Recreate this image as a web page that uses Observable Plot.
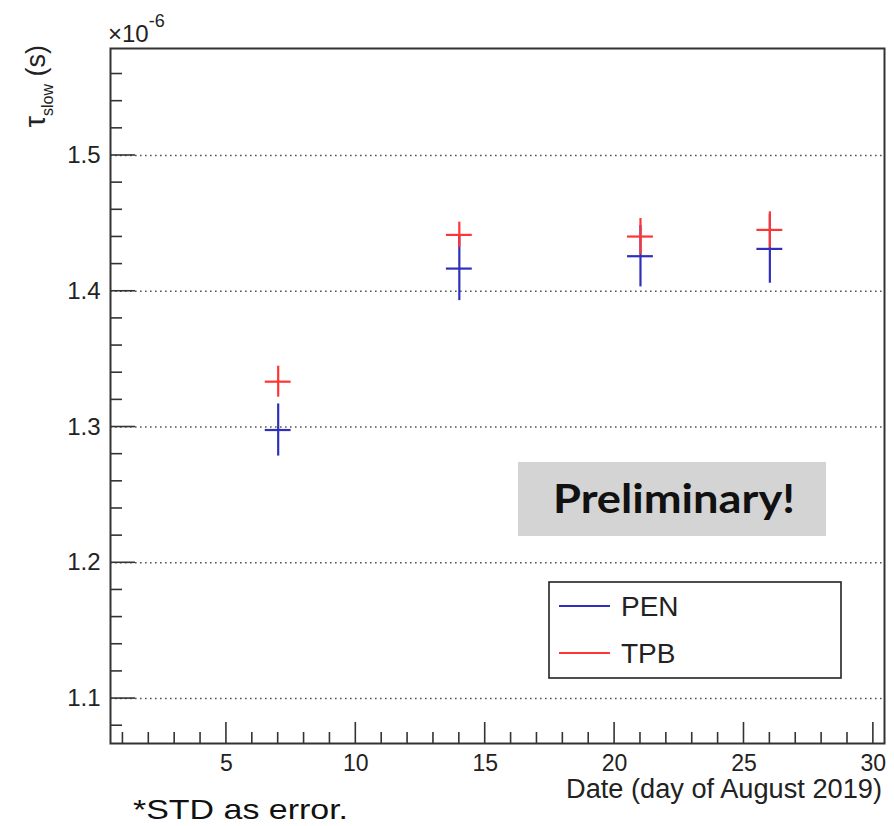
<!DOCTYPE html>
<html>
<head>
<meta charset="utf-8">
<script src="https://cdn.jsdelivr.net/npm/d3@7"></script>
<script src="https://cdn.jsdelivr.net/npm/@observablehq/plot@0.6"></script>
<style>
  body { margin: 0; background: #fff; }
  #chart { position: relative; width: 894px; height: 826px; }
</style>
</head>
<body>
<div id="chart"></div>
<script>
// ---- data ----
const days = [7, 14, 21, 26];
const dayHalfWidth = [0.5, 0.5, 0.5, 0.5];
const penValues = [1.2978, 1.4167, 1.4258, 1.4312];
const penErrors = [0.0192, 0.0236, 0.0226, 0.0253];
const tpbValues = [1.3334, 1.4415, 1.4403, 1.4452];
const tpbErrors = [0.0114, 0.0094, 0.0133, 0.0133];
const seriesNames = ["PEN", "TPB"];
const seriesColors = ["#2f2fbb", "#ff3535"];
const xMajorTicks = [5, 10, 15, 20, 25, 30];
const xMinorTicks = d3.range(1, 31);
const yMajorTicks = [1.1, 1.2, 1.3, 1.4, 1.5];
const yMinorTicks = d3.range(1.08, 1.57, 0.02);
const xDomain = [0.52, 30.43];
const yDomain = [1.0669, 1.5788];

const rows = [];
days.forEach((d, i) => {
  rows.push({series: "PEN", day: d, hw: dayHalfWidth[i], v: penValues[i], e: penErrors[i]});
});
days.forEach((d, i) => {
  rows.push({series: "TPB", day: d, hw: dayHalfWidth[i], v: tpbValues[i], e: tpbErrors[i]});
});
const colorOf = s => seriesColors[seriesNames.indexOf(s)];

const FONT = "'Liberation Sans', Arial, Helvetica, sans-serif";

const plot = Plot.plot({
  width: 894,
  height: 826,
  marginLeft: 110,
  marginRight: 10,
  marginTop: 48,
  marginBottom: 83,
  style: {fontFamily: FONT, background: "#fff", color: "#222", overflow: "visible"},
  x: {domain: xDomain},
  y: {domain: yDomain},
  marks: [
    Plot.ruleY(yMajorTicks, {stroke: "#555", strokeWidth: 1.6, strokeDasharray: "1.6,3.4"}),
    Plot.ruleX(rows, {x: "day", y1: d => d.v - d.e, y2: d => d.v + d.e, stroke: d => colorOf(d.series), strokeWidth: 2.2}),
    Plot.ruleY(rows, {y: "v", x1: d => d.day - d.hw, x2: d => d.day + d.hw, stroke: d => colorOf(d.series), strokeWidth: 2.2}),
    Plot.frame({stroke: "#333", strokeWidth: 2}),
    Plot.axisX({ticks: xMajorTicks, tickSize: 0, tickPadding: 11, fontSize: 23, label: null}),
    Plot.axisY({ticks: yMajorTicks, tickSize: 0, tickPadding: 10, fontSize: 24, label: null, tickFormat: d => d.toFixed(1)})
  ]
});

document.getElementById("chart").appendChild(plot);

const svg = d3.select(plot);
const sx = plot.scale("x");
const sy = plot.scale("y");
const x0 = sx.apply(xDomain[0]);
const y0 = sy.apply(yDomain[0]);

// inward ticks (ROOT style)
const tg = svg.append("g").attr("stroke", "#333").attr("stroke-width", 1.6);
xMinorTicks.forEach(t => {
  const major = xMajorTicks.includes(t);
  const px = sx.apply(t);
  tg.append("line").attr("x1", px).attr("x2", px).attr("y1", y0).attr("y2", y0 - (major ? 21 : 11));
});
yMinorTicks.forEach(t => {
  const major = yMajorTicks.some(m => Math.abs(m - t) < 1e-6);
  const py = sy.apply(t);
  tg.append("line").attr("x1", x0).attr("x2", x0 + (major ? 25 : 12)).attr("y1", py).attr("y2", py);
});

const ann = svg.append("g").attr("text-anchor", "start").attr("font-family", FONT);

// exponent label
const ex = ann.append("text").attr("x", 108).attr("y", 42).attr("fill", "#222");
ex.append("tspan").attr("font-size", 24).text("×10");
ex.append("tspan").attr("font-size", 18).attr("dy", -15).text("-6");

// y-axis title
const yt = ann.append("text")
  .attr("transform", "translate(45,45) rotate(-90)")
  .attr("text-anchor", "end").attr("fill", "#222");
yt.append("tspan").attr("font-size", 29).text("τ");
yt.append("tspan").attr("font-size", 16).attr("dy", 8).text("slow");
yt.append("tspan").attr("font-size", 27).attr("dy", -8).text(" (s)");

// x-axis title
ann.append("text").attr("x", 882).attr("y", 798).attr("text-anchor", "end")
  .attr("font-size", 27).attr("fill", "#222")
  .attr("textLength", 316).attr("lengthAdjust", "spacingAndGlyphs")
  .text("Date (day of August 2019)");

// footnote
ann.append("text").attr("x", 133).attr("y", 819)
  .attr("font-size", 28).attr("fill", "#111")
  .attr("textLength", 215).attr("lengthAdjust", "spacingAndGlyphs")
  .text("*STD as error.");

// Preliminary box
ann.append("rect").attr("x", 518).attr("y", 462).attr("width", 308).attr("height", 74).attr("fill", "#d4d4d4");
ann.append("text").attr("x", 674).attr("y", 513).attr("text-anchor", "middle")
  .attr("font-family", "Lato, 'Noto Sans', sans-serif").attr("font-weight", 700)
  .attr("font-size", 41).attr("fill", "#111")
  .attr("textLength", 242).attr("lengthAdjust", "spacingAndGlyphs")
  .text("Preliminary!");

// legend
const lg = ann.append("g");
lg.append("rect").attr("x", 549).attr("y", 582).attr("width", 292).attr("height", 96)
  .attr("fill", "#fff").attr("stroke", "#222").attr("stroke-width", 1.6);
seriesNames.forEach((s, i) => {
  const yy = 606 + i * 47;
  lg.append("line").attr("x1", 559).attr("x2", 610).attr("y1", yy).attr("y2", yy)
    .attr("stroke", seriesColors[i]).attr("stroke-width", 2.2);
  lg.append("text").attr("x", 621).attr("y", yy + 10)
    .attr("font-size", 28).attr("fill", "#222").text(s);
});
</script>
</body>
</html>
